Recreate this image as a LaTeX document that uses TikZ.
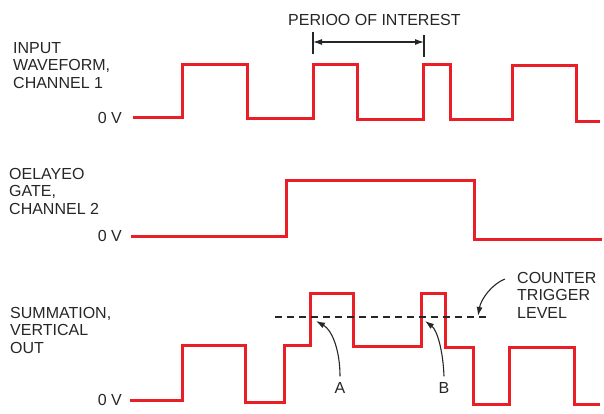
\documentclass[tikz,border=0pt]{standalone}
\usepackage{fontspec}
\setmainfont{Liberation Sans}
\usepackage{xcolor}
\usepackage{tikz}
\usetikzlibrary{arrows.meta, positioning, calc}

\definecolor{tracered}{RGB}{234,30,38}
\definecolor{inkgray}{RGB}{38,38,38}

\tikzset{
  trace/.style={draw=tracered, line width=3pt, line join=miter},
  caption/.style={anchor=north west, align=left, inner sep=0pt, text=inkgray,
    font=\fontsize{16}{17.5}\selectfont},
  zerov/.style={anchor=east, inner sep=0pt, text=inkgray, font=\fontsize{16}{17.5}\selectfont},
  level/.style={draw=inkgray, line width=1.1pt, dash pattern=on 7pt off 5pt},
  pointer/.style={draw=inkgray, line width=1.1pt, -{Latex[length=9pt,width=6pt]}},
  dimline/.style={draw=inkgray, line width=1.1pt}
}

\begin{document}
\begin{tikzpicture}[x=1pt, y=-1pt]
\useasboundingbox (0,0) rectangle (604,414);

% period of interest
\node[caption] (poi) at (288,14) {PERIOO OF INTEREST};
\coordinate (pL) at (313,42);
\coordinate (pR) at (424,42);
\draw[dimline] (313,32) -- (313,54);
\draw[dimline] (424,35) -- (424,57);
\draw[dimline, {Latex[length=9pt,width=6pt]}-{Latex[length=9pt,width=6pt]}] (pL) -- (pR);

% input waveform, channel 1
\node[caption] (lbl1) at (13,42) {INPUT\\WAVEFORM,\\CHANNEL 1};
\node[zerov] (zero1) at (122,118) {0 V};
\draw[trace] (133,118) -| (182,65) -| (247,119) -| (313,65) -| (357,120)
  -| (423,65) -| (450,120) -| (512,66) -| (576,122) -- (600,122);

% delayed gate, channel 2
\node[caption] (lbl2) at (9,168) {OELAYEO\\GATE,\\CHANNEL 2};
\node[zerov] (zero2) at (122,236) {0 V};
\draw[trace] (131,236) -| (286,180) -| (474,239) -- (602,239);

% summation, vertical out
\node[caption] (lbl3) at (10,307) {SUMMATION,\\VERTICAL\\OUT};
\node[zerov] (zero3) at (122,400) {0 V};
\draw[trace] (130,400) -| (182,345) -| (245,402) -| (284,345) -| (310,293)
  -| (353,346) -| (421,293) -| (445,347) -| (473,404) -| (509,347)
  -| (574,404) -- (600,404);

% counter trigger level
\coordinate (trigL) at (275,317);
\coordinate (trigR) at (488,317);
\draw[level] (trigL) -- (trigR);
\node[caption] (ctl) at (517,272) {COUNTER\\TRIGGER\\LEVEL};
\coordinate (ctlTail) at (505,279);
\coordinate (ctlTip) at (478,316);
\draw[pointer] (ctlTail) .. controls (492,284) and (481,299) .. (ctlTip);

% crossing points
\coordinate (crossA) at (316,321);
\coordinate (crossB) at (425,321);
\node[caption, anchor=center] (A) at (340,388) {A};
\node[caption, anchor=center] (B) at (444,388) {B};
\draw[pointer] (A.north) ++(0,-6) .. controls (340,350) and (332,330) .. (crossA);
\draw[pointer] (B.north) ++(0,-6) .. controls (443,350) and (437,330) .. (crossB);

\end{tikzpicture}
\end{document}
